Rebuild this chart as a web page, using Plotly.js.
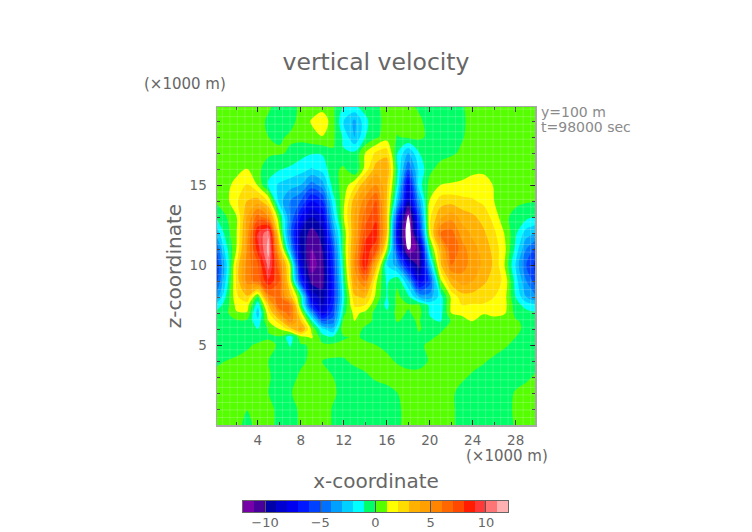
<!DOCTYPE html>
<html><head><meta charset="utf-8"><script src="https://cdn.plot.ly/plotly-3.0.1.min.js"></script>
<style>html,body{margin:0;padding:0;background:#fff}</style></head><body><div id="c" style="width:752px;height:532px"></div>
<script>
const xKm=[0,1,2,3,4,5,6,7,8,9,10,11,12,13,14,15,16,17,18,19,20,21,22,23,24,25,26,27,28,29,30];
const zKm=[20,19,18,17,16,15,14,13,12,11,10,9,8,7.5,7,6.5,6,5.5,5,4,3,2,1,0];
const w=[
[.4,.4,.4,.4,.3,.1,-.2,-.2,.1,.3,.3,.1,-.9,-1,-.5,-.1,.2,.3,.1,-.1,-.2,-.2,-.3,-.05,.2,.4,.4,.4,.4,.4,.4],
[.4,.4,.4,.4,.2,-.1,-.3,-.2,.2,1.1,1.9,.3,-2,-3.2,-1.3,-.2,.2,.3,.3,.1,-.2,-.3,-.3,-.1,.2,.4,.4,.4,.4,.4,.4],
[.4,.4,.4,.4,.3,0,-.1,.1,.3,.7,.95,.2,-1.2,-3,-1,-.2,.5,-.05,.2,.2,-.2,-.3,-.2,-.05,.2,.4,.4,.4,.4,.4,.4],
[.4,.4,.4,.4,.3,.2,.1,-.1,-.6,-.9,-.9,-.1,-.9,-.8,1,2.2,2.6,-1,-3,-1.05,-.2,-.3,-.1,.1,.3,.4,.4,.4,.4,.4,.4],
[.4,.4,.5,1.05,.3,-.6,-.9,-1.2,-1.6,-2.1,-1.6,-.3,.2,-1,1.4,3.5,4,-.9,-5,-1.8,-.2,.3,.4,.4,.7,.7,.3,.4,.4,.4,.4],
[.3,.5,1.5,2.1,.9,-1.2,-2.2,-2.6,-3,-4.5,-3.5,-.5,.4,1.8,3.8,5,3.3,-1.3,-8,-1.5,.3,1,1.1,1.25,1.5,1.6,.9,.4,.4,.3,.3],
[.1,.6,1.8,3,3.5,1.8,-2.5,-4,-5,-7,-6,-1.5,.8,3.5,5.5,7,3,-2.8,-9,-3.5,1.1,2.5,2.6,2.3,2.1,1.8,1,.4,.2,.1,.1],
[-1.1,-.1,.9,4,6.5,5,0,-4,-7,-9,-8,-2.5,1,4,6.5,7.8,3,-6,-12.5,-5.5,1.8,3.8,4.6,3.6,3.2,2.6,1.6,.2,-.3,-.7,-1.1],
[-3,-.6,.9,4.5,9,10.8,1.3,-4.5,-9,-10.5,-9.5,-4,.3,4,7.5,8.5,3,-7.5,-13.5,-7,1.5,6,6.5,4.5,3.8,3.2,2.2,.9,-.8,-2.5,-3],
[-5.5,-1.5,1,5,8.5,11.5,3.5,-3,-9,-11,-10,-5.5,.3,4.5,8.5,7.5,1,-6,-12.3,-10.5,-.5,3.5,7,5.5,4.3,3.7,2.6,1.2,-1.3,-4,-5.5],
[-6.5,-2.5,2.2,5.5,6.8,10.5,6,1,-8,-11.5,-10.5,-6,-.2,5,9,3.5,-2,-3.5,-7.5,-10.5,-3,2.8,6,5.5,4.5,3.8,2.8,.9,-2.2,-5,-6.5],
[-6,-2,2.2,5.5,6.5,8.8,7,1.6,-6,-10.5,-10.5,-6.5,-.7,4.3,6,1.2,-1.2,-.2,-3,-8,-5.5,.7,3.5,4.5,4,3.2,2.6,1.7,-1.5,-4,-5.8],
[-4,-1,1.8,2.8,-.2,5.5,6.5,3.5,-.3,-8,-9.5,-6.5,-1.2,2.8,3.2,.7,-1.1,.25,-.7,-3,-3.5,-1.5,1.2,2.5,2.6,2.4,2,1.3,-1,-3,-4],
[-1.8,-.6,1.3,1.5,-1.7,3,7,6.5,-.2,-6.5,-9,-6,-.9,2.2,2,.1,-1.3,.3,.1,.1,-1.2,-1.6,1.2,2,1.9,1.9,1.7,1.3,-.5,-1.5,-1.8],
[-.9,-.3,.9,.9,-2.5,1.8,5,6.5,1.6,-3.5,-8,-5.5,-.3,1.3,.7,-.3,-.8,.3,-.1,.3,-1.1,-1.4,1,1.3,1.5,1.1,1.4,1.1,-.3,-.6,-.9],
[-.4,-.2,-.15,-.2,-1.7,1,2.5,5.5,3,-.8,-5,-4.5,.3,1,.3,-.2,-.4,.05,-.2,.1,-.8,-1.1,.1,.5,1.05,.5,.5,.4,.1,-.2,-.4],
[-.3,-.2,-.1,-.2,-1,.1,1,2.5,4.5,.8,-1.8,-2.8,.9,.5,-.2,-.3,-.3,-.3,-.3,.05,-.2,-.1,.2,.2,.2,.2,.2,.2,.1,-.1,-.3],
[-.35,-.3,-.2,-.2,-.3,-.1,-.1,-1.5,.6,1.2,-.5,-.9,-.1,.1,-.1,-.2,-.2,-.2,-.2,-.1,-.1,.1,.2,.2,.2,.2,.2,.1,0,-.2,-.35],
[-.4,-.35,-.25,-.1,.1,.2,-.1,-1.1,-.1,.1,.2,.2,.2,.2,.1,0,-.1,-.2,-.2,-.1,.1,.2,.2,.2,.2,.2,.2,.05,-.1,-.3,-.4],
[-.15,0,.1,.2,.2,0,-.2,-.2,-.1,.1,0,-.05,-.05,.1,.2,.2,.1,-.05,-.2,-.2,.05,.2,.2,.2,.2,.05,-.1,-.2,-.2,-.2,-.15],
[.2,.2,.2,.2,.2,.05,-.2,-.2,.1,.2,.2,0,-.1,-.2,-.1,.1,.2,.2,.2,.2,.2,.2,.2,.1,-.1,-.2,-.2,-.2,-.2,-.1,.1],
[.3,.3,.3,.3,.3,0,-.2,-.05,.2,.3,.3,.1,-.2,-.3,-.3,-.3,-.2,0,.2,.3,.3,.3,.1,-.2,-.3,-.3,-.3,-.2,.05,.2,.3],
[.3,.3,.2,.02,.2,.2,-.2,-.2,.1,.3,.3,-.05,-.3,-.3,-.3,-.3,-.3,-.1,.2,.3,.3,.3,.1,-.2,-.3,-.3,-.3,-.2,.1,.2,.3],
[.3,.3,.2,-.2,.2,.2,-.2,-.3,.1,.3,.3,-.05,-.3,-.3,-.3,-.3,-.3,-.1,.2,.3,.3,.3,.1,-.2,-.3,-.3,-.3,-.2,.05,.2,.3]
];
const binColors=['#ffffff','#7800a8','#48009c','#0000a8','#0000d0','#0000f0','#0018ff','#0040ff','#0070ff','#00a0ff','#00d0ff','#00ffff','#00ff66','#55ff00','#ffff00','#ffdc00','#ffb000','#ffa000','#ff8400','#ff6800','#ff4800','#ff1c00','#ff3838','#ff7474','#ffb0b0','#ffffff'];
const levelMin=-13,levelMax=13;
const colorscale=[];
binColors.forEach((c,i)=>{colorscale.push([i/26,c]);colorscale.push([(i+1)/26,c]);});
const xMajor=[4,8,12,16,20,24,28];
const zMajor=[5,10,15];
const barCenters=[-11.5,-10.5,-9.5,-8.5,-7.5,-6.5,-5.5,-4.5,-3.5,-2.5,-1.5,-0.5,0.5,1.5,2.5,3.5,4.5,5.5,6.5,7.5,8.5,9.5,10.5,11.5];
const barTicks=[-10,-5,0,5,10];
const barLabels=['\u221210','\u22125','0','5','10'];
const gridX=[],gridZ=[];
for(let v=0.7;v<30;v+=0.7)gridX.push(v);
for(let v=0.47;v<20;v+=0.47)gridZ.push(v);
const XR=[0.2,29.8],ZR=[0,19.875];
const font='DejaVu Sans, sans-serif';
const txt='#666666';
let gridPath='';
gridX.forEach(v=>{if(v>XR[0]&&v<XR[1])gridPath+=`M${v},${ZR[0]}L${v},${ZR[1]}`});
gridZ.forEach(v=>{if(v<ZR[1])gridPath+=`M${XR[0]},${v}L${XR[1]},${v}`});
const axisCommon={showgrid:false,zeroline:false,showline:true,linecolor:'#a8a8a8',linewidth:1.5,mirror:'allticks',ticks:'inside',ticklen:5,tickcolor:'#222',tickwidth:1,tickfont:{family:font,size:13.5,color:txt},automargin:false};
const trace={type:'contour',x:xKm,y:zKm.slice().reverse(),z:w.slice().reverse(),
 colorscale:colorscale,zmin:levelMin,zmax:levelMax,autocontour:false,showscale:false,
 contours:{start:-12,end:12,size:1,coloring:'fill',showlines:false},line:{width:0,smoothing:1},hoverinfo:'skip'};
const bar={type:'heatmap',x:barCenters,y:[0],z:[barCenters],xaxis:'x2',yaxis:'y2',colorscale:colorscale,zmin:levelMin,zmax:levelMax,showscale:false,hoverinfo:'skip'};
const ann=(text,x,y,size,color,anchor)=>({text,xref:'paper',yref:'paper',x:x/752,y:1-y/532,xanchor:anchor||'left',yanchor:'middle',showarrow:false,font:{family:font,size,color},align:'left',borderpad:0});
const layout={width:752,height:532,autosize:false,margin:{l:0,r:0,t:0,b:0},paper_bgcolor:'#fff',plot_bgcolor:'#fff',showlegend:false,
 title:{text:'vertical velocity',x:376/752,xanchor:'center',y:1-62/532,yanchor:'middle',font:{family:font,size:23.5,color:txt}},
 xaxis:Object.assign({},axisCommon,{domain:[217/752,535/752],anchor:'y',range:XR,tickvals:xMajor,ticklabelstandoff:2,minor:{dtick:2,tick0:0,ticks:'inside',ticklen:3,tickcolor:'#444'},title:{text:'x-coordinate',font:{family:font,size:20,color:txt},standoff:27}}),
 yaxis:Object.assign({},axisCommon,{domain:[107/532,425/532],anchor:'x',range:ZR,tickvals:zMajor,ticklabelstandoff:6,minor:{dtick:1,tick0:0,ticks:'inside',ticklen:3,tickcolor:'#444'},title:{text:'z-coordinate',font:{family:font,size:20,color:txt},standoff:2}}),
 xaxis2:{domain:[243/752,508/752],anchor:'y2',range:[-12,12],tickvals:barTicks,ticktext:barLabels,ticks:'inside',ticklen:11,tickwidth:1,tickcolor:'#555',showgrid:false,zeroline:false,showline:true,linecolor:'#666',linewidth:1,mirror:true,tickfont:{family:font,size:13,color:txt},automargin:false,ticklabelstandoff:-2},
 yaxis2:{domain:[20/532,31/532],anchor:'x2',range:[-.5,.5],showticklabels:false,ticks:'',showgrid:false,zeroline:false,showline:true,linecolor:'#666',linewidth:1,mirror:true,automargin:false},
 shapes:[{type:'path',xref:'x',yref:'y',path:gridPath,line:{color:'rgba(255,255,255,0.2)',width:1},layer:'above'}],
 annotations:[ann('(×1000 m)',143,84,15,txt),ann('(×1000 m)',465,456,15,txt),ann('y=100 m',540,112,14,'#8a8a8a'),ann('t=98000 sec',540,127,14,'#8a8a8a')]};
Plotly.newPlot('c',[trace,bar],layout,{displayModeBar:false,staticPlot:true});
</script></body></html>
